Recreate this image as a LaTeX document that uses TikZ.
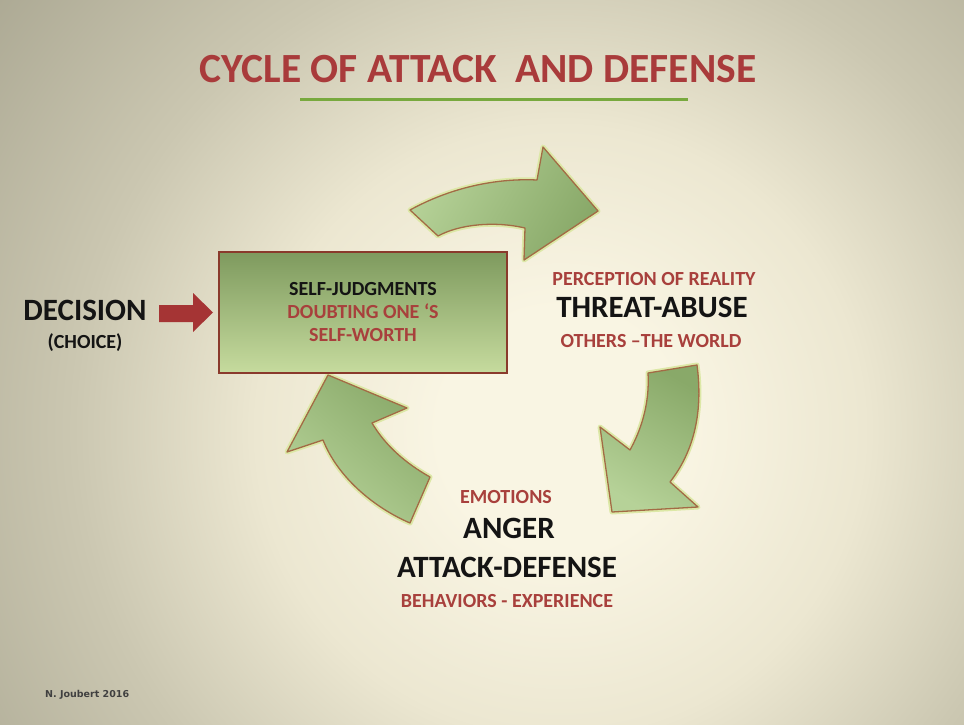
\documentclass[tikz,border=0pt]{standalone}
\usepackage{fontspec}
\setmainfont{Carlito}
\newfontfamily\footfont{DejaVu Sans}
\definecolor{bgA}{HTML}{F9F5E3}
\definecolor{bgB}{HTML}{ECE7D1}
\definecolor{bgC}{HTML}{CBC7B1}
\definecolor{bgD}{HTML}{A6A38E}
\definecolor{titlered}{HTML}{A93B3B}
\definecolor{txtred}{HTML}{A8403C}
\definecolor{txtblack}{HTML}{141414}
\definecolor{boxborder}{HTML}{8A3A2C}
\definecolor{boxtop}{HTML}{7E9A5E}
\definecolor{boxbot}{HTML}{C6DB9E}
\definecolor{arrlight}{HTML}{B6D298}
\definecolor{arrdark}{HTML}{89A969}
\definecolor{arrbrown}{HTML}{A36B45}
\definecolor{glowc}{HTML}{DCE8A6}
\definecolor{decired}{HTML}{A53434}
\definecolor{ulgreen}{HTML}{78A93E}
\pgfdeclareradialshading{bgrad}{\pgfpoint{0bp}{0bp}}{color(0bp)=(bgA); color(4bp)=(bgA); color(10bp)=(bgB); color(16bp)=(bgC); color(25bp)=(bgD); color(50bp)=(bgD)}
\tikzset{
  redtxt/.style={text=txtred, font=\bfseries\fontsize{20}{22}\selectfont, anchor=base, inner sep=0pt},
  bigtxt/.style={text=txtblack, font=\bfseries\fontsize{31}{34}\selectfont, anchor=base, inner sep=0pt},
  judgebox/.style={draw=boxborder, line width=2.5pt, top color=boxtop, bottom color=boxbot,
    minimum width=288pt, minimum height=121pt, align=center, inner sep=0pt,
    font=\bfseries\fontsize{20}{23}\selectfont},
  cyclearrow/.style={preaction={draw=glowc, line width=5pt, line join=round},
    draw=arrbrown, line width=1.3pt, line join=round},
  decarrow/.style={fill=decired, draw=none}
}
\begin{document}
\begin{tikzpicture}[x=1pt,y=-1pt]
\useasboundingbox (0,0) rectangle (964,725);
\begin{scope}
  \clip (0,0) rectangle (964,725);
  \shade[shading=bgrad] (560,430) circle (760);
\end{scope}

% title
\node[anchor=base, inner sep=0pt, text=titlered, font=\bfseries\fontsize{41.5}{44}\selectfont] (title) at (478,83) {CYCLE OF ATTACK\ \ AND DEFENSE};
\coordinate (ulL) at (300,99);
\coordinate (ulR) at (688,99);
\draw[ulgreen, line width=3pt] (ulL) -- (ulR);

% curved cycle arrows
\draw[cyclearrow, left color=arrlight, right color=arrdark, shading angle=60]
  (410,210) .. controls (450,188) and (495,178) .. (537,180) -- (543,147) -- (598,211) -- (524,260)
  -- (525,228) .. controls (495,221) and (460,224) .. (438,236) -- cycle;
\draw[cyclearrow, left color=arrdark, right color=arrlight, shading angle=-30]
  (648,373) -- (697,365) .. controls (703,410) and (695,450) .. (670,482) -- (698,507) -- (612,512)
  -- (600,427) -- (630,450) .. controls (640,432) and (650,405) .. (648,373) -- cycle;
\draw[cyclearrow, left color=arrdark, right color=arrlight, shading angle=-40]
  (328,375) -- (407,408) -- (372,423) .. controls (385,445) and (405,463) .. (430,477) -- (410,523)
  .. controls (375,508) and (338,478) .. (323,440) -- (287,452) -- cycle;

% central box
\node[judgebox] (box) at (363,312.5) {\textcolor{txtblack}{SELF-JUDGMENTS}\\\textcolor{txtred}{DOUBTING ONE ‘S}\\\textcolor{txtred}{SELF-WORTH}};

% decision
\node[bigtxt] (decision) at (85,320) {DECISION};
\node[anchor=base, inner sep=0pt, text=txtblack, font=\bfseries\fontsize{20}{22}\selectfont] (choice) at (85,348) {(CHOICE)};
\draw[decarrow] (159,305) -- (193,305) -- (193,293) -- (213,312.5) -- (193,332) -- (193,322) -- (159,322) -- cycle;

% right group
\node[redtxt] (perc) at (654,285) {PERCEPTION OF REALITY};
\node[bigtxt] (threat) at (652,317) {THREAT-ABUSE};
\node[redtxt] (others) at (651,347) {OTHERS –THE WORLD};

% bottom group
\node[redtxt] (emo) at (506,503) {EMOTIONS};
\node[bigtxt] (anger) at (509,538) {ANGER};
\node[bigtxt] (atkdef) at (507,577) {ATTACK-DEFENSE};
\node[redtxt] (behav) at (507,607) {BEHAVIORS - EXPERIENCE};

% footer
\node[anchor=base west, inner sep=0pt, text=black!75, font=\footfont\bfseries\fontsize{9.5}{11}\selectfont] (foot) at (45,697) {N. Joubert 2016};
\end{tikzpicture}
\end{document}
